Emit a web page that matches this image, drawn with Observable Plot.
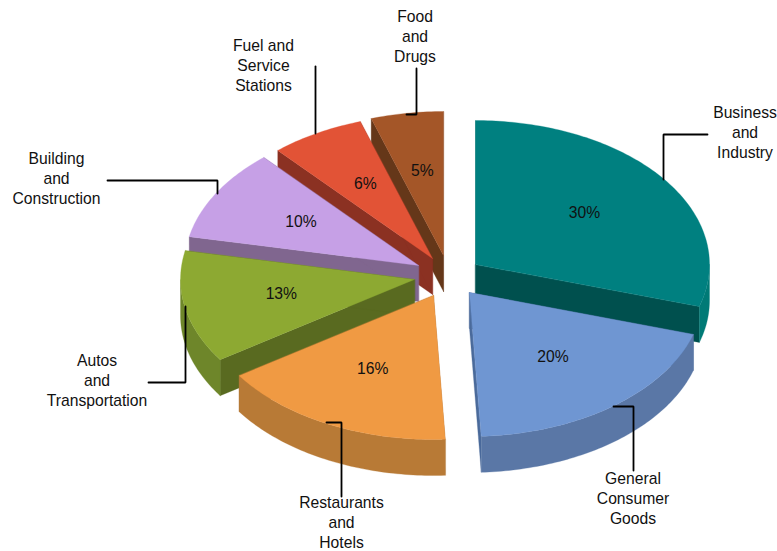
<!DOCTYPE html>
<html>
<head>
<meta charset="utf-8">
<script src="https://cdn.jsdelivr.net/npm/d3@7"></script>
<script src="https://cdn.jsdelivr.net/npm/@observablehq/plot@0.6"></script>
<style>
  html, body { margin: 0; padding: 0; background: #fff; }
  svg { display: block; }
</style>
</head>
<body>
<div id="chart"></div>
<script>
// Data
const categories = [
  "Business\nand\nIndustry",
  "General\nConsumer\nGoods",
  "Restaurants\nand\nHotels",
  "Autos\nand\nTransportation",
  "Building\nand\nConstruction",
  "Fuel and\nService\nStations",
  "Food\nand\nDrugs"
];
const shares = [29.7, 19.5, 16.4, 12.6, 10.3, 6.5, 5.0];   // drawn sweep of each slice
const percents = [30, 20, 16, 13, 10, 6, 5];               // printed labels

// Styles
const topColors = ["#008080", "#6f96d2", "#f09a43", "#8da932", "#c6a0e6", "#e25336", "#a45628"];
const cutColors = ["#00504e", "#4a6a9a", "#a86c2e", "#596a20", "#80668f", "#8b3122", "#653719"];
const rimColors = ["#007a76", "#5a77a6", "#b87a36", "#6e862a", "#80668f", "#8b3122", "#653719"];

// Layout of the exploded pie
const apexX = [475, 469, 433, 414, 418, 432, 443];
const apexY = [264, 292, 295, 279, 265, 258, 255];
const radiusX = 234, radiusY = 144, depth = 36, labelRadius = 0.58;
const drawOrder = [6, 5, 4, 3, 0, 1, 2];

// Outer label centres and leader paths
const labelX = [744.5, 632.5, 341, 96.5, 56, 263, 414.5];
const labelY = [131, 497, 521.5, 379, 177, 64, 35];
const leaderX = [[707, 663, 663], [613, 633, 633], [326, 341, 341], [148, 185, 185], [107, 217, 217], [315, 315], [416, 416, 406]];
const leaderY = [[134, 134, 179], [406, 406, 470], [422, 422, 496], [382, 382, 306], [180, 180, 193], [66, 133], [68, 114, 114]];

// Slice angles (clockwise from 12 o'clock) follow from the shares
const ends = d3.cumsum(shares).map(v => v * 3.6);
const starts = [0, ...ends.slice(0, -1)];
const rad = t => t * Math.PI / 180;
const rim = (i, t, dy = 0) => ({
  x: apexX[i] + radiusX * Math.sin(rad(t)),
  y: apexY[i] - radiusY * Math.cos(rad(t)) + dy
});
const arc = (a, b) => {
  const n = Math.max(2, Math.ceil(Math.abs(b - a)));
  return d3.range(n + 1).map(k => a + (b - a) * k / n);
};
const apex = (i, dy = 0) => ({x: apexX[i], y: apexY[i] + dy});

const polygon = (points, fill) => Plot.line(points, {
  x: "x", y: "y", fill, stroke: fill, strokeWidth: 0.3, curve: "linear-closed"
});

const sliceMarks = drawOrder.flatMap(i => {
  const marks = [];
  for (const t of [starts[i], ends[i]]) {
    marks.push(polygon([apex(i), rim(i, t), rim(i, t, depth), apex(i, depth)], cutColors[i]));
  }
  const a = Math.max(starts[i], 90), b = Math.min(ends[i], 270);
  if (b > a) {
    const ts = arc(a, b);
    marks.push(polygon([
      ...ts.map(t => rim(i, t)),
      ...ts.slice().reverse().map(t => rim(i, t, depth))
    ], rimColors[i]));
  }
  marks.push(polygon([apex(i), ...arc(starts[i], ends[i]).map(t => rim(i, t))], topColors[i]));
  return marks;
});

const percentRows = percents.map((p, i) => {
  const mid = (starts[i] + ends[i]) / 2;
  return {
    text: p + "%",
    x: apexX[i] + labelRadius * radiusX * Math.sin(rad(mid)),
    y: apexY[i] - labelRadius * radiusY * Math.cos(rad(mid)) - 3
  };
});

const leaderRows = leaderX.flatMap((xs, i) => xs.map((x, k) => ({x, y: leaderY[i][k], i})));
const labelRows = categories.map((text, i) => ({text, x: labelX[i], y: labelY[i]}));

const textStyle = {
  text: "text", x: "x", y: "y",
  fill: "#111", fontSize: 15.7, textAnchor: "middle", lineAnchor: "middle", lineHeight: 1.275
};

const chart = Plot.plot({
  width: 777,
  height: 551,
  margin: 0,
  x: {domain: [0, 777], axis: null},
  y: {domain: [551, 0], axis: null},
  style: {fontFamily: "'Liberation Sans', Arial, sans-serif", background: "#fff"},
  marks: [
    ...sliceMarks,
    Plot.line(leaderRows, {x: "x", y: "y", z: "i", stroke: "#000", strokeWidth: 1.8, strokeLinejoin: "miter"}),
    Plot.text(percentRows, textStyle),
    Plot.text(labelRows, textStyle)
  ]
});
document.getElementById("chart").appendChild(chart);
</script>
</body>
</html>
